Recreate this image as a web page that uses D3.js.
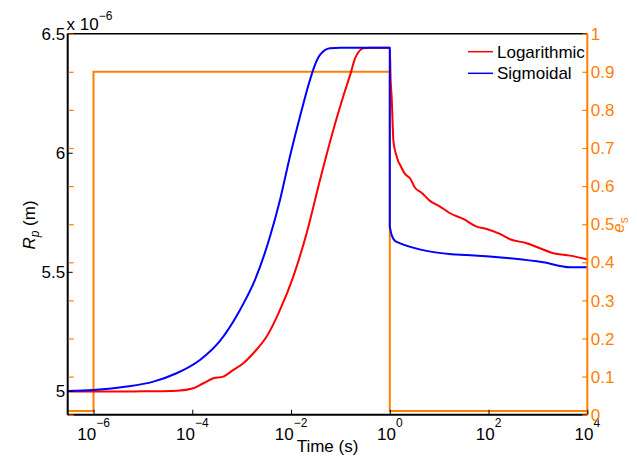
<!DOCTYPE html>
<html>
<head>
<meta charset="utf-8">
<script src="https://cdn.jsdelivr.net/npm/d3@7"></script>
<style>
  html, body { margin: 0; padding: 0; background: #fff; }
  svg { display: block; font-family: "Liberation Sans", Arial, Helvetica, sans-serif; }
</style>
</head>
<body>
<svg id="chart" width="637" height="457"></svg>
<script>
// Particle radius R_p (in units of 1e-6 m) versus time for two models,
// plus the applied saturation e_s on a secondary axis.

// Logarithmic model
const timeLog = [3e-7, 1e-6, 1e-5, 5e-5, 1.05e-4, 1.67e-4, 2.67e-4, 4.25e-4, 6.78e-4, 1.08e-3,
  1.72e-3, 3.21e-3, 5.98e-3, 1.11e-2, 2.07e-2, 3.86e-2, 7.18e-2, 0.114, 0.169, 0.19, 0.214, 0.249, 0.291, 0.4, 1,
  1.04, 1.09, 1.18, 1.27, 1.38, 1.49, 1.61, 2.03, 2.57, 3.24, 4.42, 6.52, 10.4, 16.6, 30.8, 57.5,
  91.7, 170, 272, 592, 1100, 2050, 4460, 1e4];
const rpLog = [4.997, 4.997, 4.998, 5.001, 5.011, 5.032, 5.053, 5.060, 5.088, 5.116,
  5.158, 5.228, 5.340, 5.480, 5.662, 5.886, 6.096, 6.236, 6.348, 6.386, 6.411, 6.430, 6.439, 6.441, 6.441,
  6.306, 6.236, 6.054, 6.012, 5.984, 5.963, 5.950, 5.911, 5.893, 5.853, 5.832, 5.798, 5.774, 5.746, 5.722, 5.690,
  5.680, 5.659, 5.637, 5.620, 5.599, 5.578, 5.568, 5.553];

// Sigmoidal model
const timeSig = [3e-7, 1e-6, 4.7e-6, 1.63e-5, 4.8e-5, 1.43e-4, 3.64e-4, 9.25e-4, 1.86e-3, 3.75e-3,
  5.98e-3, 9.5e-3, 1.52e-2, 2.42e-2, 3.05e-2, 3.86e-2, 6.15e-2, 0.1, 1,
  1, 1.09, 1.34, 17.9, 36, 272, 1285, 4460, 1e4];
const rpSig = [5.000, 5.004, 5.018, 5.039, 5.074, 5.130, 5.210, 5.340, 5.466, 5.648,
  5.802, 5.984, 6.152, 6.306, 6.369, 6.411, 6.439, 6.441, 6.441,
  5.690, 5.655, 5.627, 5.574, 5.571, 5.557, 5.540, 5.519, 5.519];

// Saturation e_s (right axis)
const timeEs = [3e-7, 1e-6, 1e-6, 1, 1, 1e4];
const esVals = [0.01, 0.01, 0.9, 0.9, 0.01, 0.01];

// Tick values
const timeTicks = [-6, -4, -2, 0, 2, 4];           // exponents of 10
const rpTicks = [5, 5.5, 6, 6.5];
const rpTickLabels = ["5", "5.5", "6", "6.5"];
const esTicks = [0, 0.1, 0.2, 0.3, 0.4, 0.5, 0.6, 0.7, 0.8, 0.9, 1];
const esTickLabels = ["0", "0.1", "0.2", "0.3", "0.4", "0.5", "0.6", "0.7", "0.8", "0.9", "1"];

const seriesNames = ["Logarithmic", "Sigmoidal"];
const seriesColors = ["#ff0000", "#0000ff"];
const esColor = "#ff8000";

const svg = d3.select("#chart");
const L = 67.7, R = 587.3, T = 33.7, B = 414.7;

const x = d3.scaleLog().domain([3e-7, 1e4]).range([L, R]);
const yL = d3.scaleLinear().domain([4.9, 6.5]).range([B, T]);
const yR = d3.scaleLinear().domain([0, 1]).range([B, T]);

const fontSize = 17;

// e_s step line
const esLine = d3.line().x(d => x(d[0])).y(d => yR(d[1]));
svg.append("path")
  .attr("d", esLine(timeEs.map((t, i) => [t, esVals[i]])))
  .attr("fill", "none").attr("stroke", esColor).attr("stroke-width", 2);

// Smooth curve, split where the time repeats (instantaneous jumps drawn straight)
const smooth = d3.line().x(d => x(d[0])).y(d => yL(d[1])).curve(d3.curveMonotoneX);
function curvePath(ts, vs) {
  const segs = [[]];
  ts.forEach((t, i) => {
    if (i > 0 && t === ts[i - 1]) segs.push([]);
    segs[segs.length - 1].push([t, vs[i]]);
  });
  return segs.map((s, k) => {
    const d = s.length > 1 ? smooth(s) : `M${x(s[0][0])},${yL(s[0][1])}`;
    return k === 0 ? d : "L" + d.slice(1);
  }).join("");
}

svg.append("path").attr("d", curvePath(timeLog, rpLog))
  .attr("fill", "none").attr("stroke", seriesColors[0]).attr("stroke-width", 2)
  .attr("stroke-linejoin", "round");
svg.append("path").attr("d", curvePath(timeSig, rpSig))
  .attr("fill", "none").attr("stroke", seriesColors[1]).attr("stroke-width", 2)
  .attr("stroke-linejoin", "round");

// Frame: black left/bottom/top, orange right
svg.append("line").attr("x1", L).attr("x2", R).attr("y1", T).attr("y2", T)
  .attr("stroke", "#000").attr("stroke-width", 1.5);
svg.append("line").attr("x1", L).attr("x2", R).attr("y1", B).attr("y2", B)
  .attr("stroke", "#000").attr("stroke-width", 2);
svg.append("line").attr("x1", L).attr("x2", L).attr("y1", T).attr("y2", B)
  .attr("stroke", "#000").attr("stroke-width", 2);
svg.append("line").attr("x1", R).attr("x2", R).attr("y1", T).attr("y2", B)
  .attr("stroke", esColor).attr("stroke-width", 2);

// Bottom axis: inward ticks, labels 10^n
const xAxis = d3.axisBottom(x).tickValues(timeTicks.map(e => Math.pow(10, e)))
  .tickSize(-5).tickFormat("");
const gx = svg.append("g").attr("transform", `translate(0,${B})`).call(xAxis);
gx.select(".domain").remove();
gx.selectAll(".tick line").attr("stroke", "#000").attr("stroke-width", 1);
timeTicks.forEach(e => {
  const t = svg.append("text").attr("x", x(Math.pow(10, e))).attr("y", B + 25.5)
    .attr("text-anchor", "middle").attr("font-size", fontSize).attr("fill", "#000");
  t.append("tspan").text("10");
  t.append("tspan").attr("dy", -13).attr("font-size", 12).text(e === 0 ? "0" : (e < 0 ? "\u2212" + (-e) : String(e)));
});
svg.append("text").attr("x", (L + R) / 2).attr("y", 452)
  .attr("text-anchor", "middle").attr("font-size", fontSize).text("Time (s)");

// Left axis (R_p)
const yAxisL = d3.axisLeft(yL).tickValues(rpTicks).tickSize(-5).tickFormat("");
const gyl = svg.append("g").attr("transform", `translate(${L},0)`).call(yAxisL);
gyl.select(".domain").remove();
gyl.selectAll(".tick line").attr("stroke", "#000");
rpTicks.forEach((v, i) => {
  svg.append("text").attr("x", L - 2.5).attr("y", yL(v)).attr("dy", "0.36em")
    .attr("text-anchor", "end").attr("font-size", fontSize).text(rpTickLabels[i]);
});
// e_s ticks mirrored on the left spine
const yAxisRL = d3.axisLeft(yR).tickValues(esTicks).tickSize(-5).tickFormat("");
const gyrl = svg.append("g").attr("transform", `translate(${L + 1},0)`).call(yAxisRL);
gyrl.select(".domain").remove();
gyrl.selectAll(".tick line").attr("stroke", esColor).attr("stroke-width", 1.2);

// Exponent marker
const ex = svg.append("text").attr("x", 66.5).attr("y", 30).attr("font-size", fontSize);
ex.append("tspan").text("x 10");
ex.append("tspan").attr("dy", -10).attr("font-size", 12).text("\u22126");

// R_p label
const rl = svg.append("text").attr("transform", "translate(35,225) rotate(-90)")
  .attr("text-anchor", "middle").attr("font-size", fontSize);
rl.append("tspan").attr("font-style", "italic").text("R");
rl.append("tspan").attr("font-style", "italic").attr("font-size", 12).attr("dy", 4).text("p");
rl.append("tspan").attr("dy", -4).text(" (m)");

// Right axis (e_s)
const yAxisR = d3.axisRight(yR).tickValues(esTicks).tickSize(-5).tickFormat("");
const gyr = svg.append("g").attr("transform", `translate(${R},0)`).call(yAxisR);
gyr.select(".domain").remove();
gyr.selectAll(".tick line").attr("stroke", esColor).attr("stroke-width", 1.2);
esTicks.forEach((v, i) => {
  svg.append("text").attr("x", R + 3.5).attr("y", yR(v)).attr("dy", "0.36em")
    .attr("text-anchor", "start").attr("font-size", fontSize).attr("fill", esColor)
    .text(esTickLabels[i]);
});
const el = svg.append("text").attr("transform", "translate(624,225) rotate(-90)")
  .attr("text-anchor", "middle").attr("font-size", fontSize).attr("fill", esColor);
el.append("tspan").attr("font-style", "italic").text("e");
el.append("tspan").attr("font-size", 12).attr("dy", 4).text("s");

// Legend
const legY = [51.7, 73.3];
seriesNames.forEach((name, i) => {
  svg.append("line").attr("x1", 468).attr("x2", 493).attr("y1", legY[i]).attr("y2", legY[i])
    .attr("stroke", seriesColors[i]).attr("stroke-width", 1.5);
  svg.append("text").attr("x", 497).attr("y", legY[i]).attr("dy", "0.36em")
    .attr("font-size", fontSize).text(name);
});
</script>
</body>
</html>
